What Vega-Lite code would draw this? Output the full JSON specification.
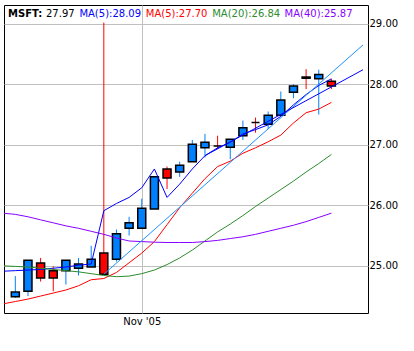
{
  "$schema": "https://vega.github.io/schema/vega-lite/v6.json",
  "width": 364,
  "height": 308,
  "autosize": {"type": "none"},
  "padding": {"left": 4, "top": 5, "right": 46, "bottom": 38},
  "background": "white",
  "config": {
    "font": "DejaVu Sans",
    "view": {"stroke": "#000000", "strokeWidth": 1}
  },
  "datasets": {
    "candles": [
      {"i": 0, "open": 24.49, "high": 24.83, "low": 24.47, "close": 24.565},
      {"i": 1, "open": 24.58, "high": 25.09, "low": 24.50, "close": 25.09},
      {"i": 2, "open": 25.045, "high": 25.13, "low": 24.74, "close": 24.80},
      {"i": 3, "open": 24.92, "high": 24.99, "low": 24.58, "close": 24.80},
      {"i": 4, "open": 24.92, "high": 25.09, "low": 24.69, "close": 25.09},
      {"i": 5, "open": 24.96, "high": 25.13, "low": 24.84, "close": 25.03},
      {"i": 6, "open": 24.98, "high": 25.33, "low": 24.98, "close": 25.11},
      {"i": 7, "open": 25.21, "high": 29.02, "low": 24.86, "close": 24.86},
      {"i": 8, "open": 25.11, "high": 25.60, "low": 25.07, "close": 25.53},
      {"i": 9, "open": 25.62, "high": 25.81, "low": 25.50, "close": 25.71},
      {"i": 10, "open": 25.62, "high": 26.11, "low": 25.62, "close": 25.95},
      {"i": 11, "open": 25.94, "high": 26.47, "low": 25.94, "close": 26.47},
      {"i": 12, "open": 26.60, "high": 26.64, "low": 26.27, "close": 26.45},
      {"i": 13, "open": 26.55, "high": 26.72, "low": 26.47, "close": 26.66},
      {"i": 14, "open": 26.72, "high": 27.08, "low": 26.72, "close": 27.01},
      {"i": 15, "open": 26.95, "high": 27.18, "low": 26.79, "close": 27.04},
      {"i": 16, "open": 26.98, "high": 27.15, "low": 26.93, "close": 26.98},
      {"i": 17, "open": 26.96, "high": 27.09, "low": 26.76, "close": 27.09},
      {"i": 18, "open": 27.15, "high": 27.40, "low": 27.08, "close": 27.28},
      {"i": 19, "open": 27.37, "high": 27.45, "low": 27.20, "close": 27.37},
      {"i": 20, "open": 27.34, "high": 27.55, "low": 27.26, "close": 27.49},
      {"i": 21, "open": 27.49, "high": 27.88, "low": 27.49, "close": 27.74},
      {"i": 22, "open": 27.87, "high": 28.00, "low": 27.77, "close": 27.97},
      {"i": 23, "open": 28.12, "high": 28.25, "low": 27.92, "close": 28.10},
      {"i": 24, "open": 28.09, "high": 28.24, "low": 27.50, "close": 28.16},
      {"i": 25, "open": 28.05, "high": 28.09, "low": 27.92, "close": 27.97}
    ],
    "mas": [
      {"s": "MA(5):28.09", "i": -1, "value": 24.91},
      {"s": "MA(5):28.09", "i": 0, "value": 24.92},
      {"s": "MA(5):28.09", "i": 1, "value": 24.93},
      {"s": "MA(5):28.09", "i": 2, "value": 24.94},
      {"s": "MA(5):28.09", "i": 3, "value": 24.96},
      {"s": "MA(5):28.09", "i": 4, "value": 24.98},
      {"s": "MA(5):28.09", "i": 5, "value": 25.01},
      {"s": "MA(5):28.09", "i": 6, "value": 25.03},
      {"s": "MA(5):28.09", "i": 7, "value": 25.91},
      {"s": "MA(5):28.09", "i": 8, "value": 26.03},
      {"s": "MA(5):28.09", "i": 9, "value": 26.13},
      {"s": "MA(5):28.09", "i": 10, "value": 26.29},
      {"s": "MA(5):28.09", "i": 11, "value": 26.60},
      {"s": "MA(5):28.09", "i": 12, "value": 26.13},
      {"s": "MA(5):28.09", "i": 13, "value": 26.35},
      {"s": "MA(5):28.09", "i": 14, "value": 26.60},
      {"s": "MA(5):28.09", "i": 15, "value": 26.82},
      {"s": "MA(5):28.09", "i": 16, "value": 26.95},
      {"s": "MA(5):28.09", "i": 17, "value": 27.04},
      {"s": "MA(5):28.09", "i": 18, "value": 27.18},
      {"s": "MA(5):28.09", "i": 19, "value": 27.25},
      {"s": "MA(5):28.09", "i": 20, "value": 27.33},
      {"s": "MA(5):28.09", "i": 21, "value": 27.47},
      {"s": "MA(5):28.09", "i": 22, "value": 27.66},
      {"s": "MA(5):28.09", "i": 23, "value": 27.83},
      {"s": "MA(5):28.09", "i": 24, "value": 27.98},
      {"s": "MA(5):28.09", "i": 25, "value": 28.09},
      {"s": "MA(5):27.70", "i": -1, "value": 24.37},
      {"s": "MA(5):27.70", "i": 0, "value": 24.41},
      {"s": "MA(5):27.70", "i": 1, "value": 24.45},
      {"s": "MA(5):27.70", "i": 2, "value": 24.50},
      {"s": "MA(5):27.70", "i": 3, "value": 24.55},
      {"s": "MA(5):27.70", "i": 4, "value": 24.60},
      {"s": "MA(5):27.70", "i": 5, "value": 24.67},
      {"s": "MA(5):27.70", "i": 6, "value": 24.77},
      {"s": "MA(5):27.70", "i": 7, "value": 24.79},
      {"s": "MA(5):27.70", "i": 8, "value": 24.89},
      {"s": "MA(5):27.70", "i": 9, "value": 25.05},
      {"s": "MA(5):27.70", "i": 10, "value": 25.21},
      {"s": "MA(5):27.70", "i": 11, "value": 25.40},
      {"s": "MA(5):27.70", "i": 12, "value": 25.68},
      {"s": "MA(5):27.70", "i": 13, "value": 25.96},
      {"s": "MA(5):27.70", "i": 14, "value": 26.20},
      {"s": "MA(5):27.70", "i": 15, "value": 26.44},
      {"s": "MA(5):27.70", "i": 16, "value": 26.64},
      {"s": "MA(5):27.70", "i": 17, "value": 26.73},
      {"s": "MA(5):27.70", "i": 18, "value": 26.86},
      {"s": "MA(5):27.70", "i": 19, "value": 26.95},
      {"s": "MA(5):27.70", "i": 20, "value": 27.05},
      {"s": "MA(5):27.70", "i": 21, "value": 27.16},
      {"s": "MA(5):27.70", "i": 22, "value": 27.36},
      {"s": "MA(5):27.70", "i": 23, "value": 27.53},
      {"s": "MA(5):27.70", "i": 24, "value": 27.59},
      {"s": "MA(5):27.70", "i": 25, "value": 27.70},
      {"s": "MA(20):26.84", "i": -1, "value": 25.00},
      {"s": "MA(20):26.84", "i": 0, "value": 24.99},
      {"s": "MA(20):26.84", "i": 1, "value": 24.98},
      {"s": "MA(20):26.84", "i": 2, "value": 24.96},
      {"s": "MA(20):26.84", "i": 3, "value": 24.94},
      {"s": "MA(20):26.84", "i": 4, "value": 24.92},
      {"s": "MA(20):26.84", "i": 5, "value": 24.90},
      {"s": "MA(20):26.84", "i": 6, "value": 24.87},
      {"s": "MA(20):26.84", "i": 7, "value": 24.84},
      {"s": "MA(20):26.84", "i": 8, "value": 24.82},
      {"s": "MA(20):26.84", "i": 9, "value": 24.83},
      {"s": "MA(20):26.84", "i": 10, "value": 24.87},
      {"s": "MA(20):26.84", "i": 11, "value": 24.93},
      {"s": "MA(20):26.84", "i": 12, "value": 25.02},
      {"s": "MA(20):26.84", "i": 13, "value": 25.13},
      {"s": "MA(20):26.84", "i": 14, "value": 25.26},
      {"s": "MA(20):26.84", "i": 15, "value": 25.41},
      {"s": "MA(20):26.84", "i": 16, "value": 25.56},
      {"s": "MA(20):26.84", "i": 17, "value": 25.69},
      {"s": "MA(20):26.84", "i": 18, "value": 25.83},
      {"s": "MA(20):26.84", "i": 19, "value": 25.98},
      {"s": "MA(20):26.84", "i": 20, "value": 26.12},
      {"s": "MA(20):26.84", "i": 21, "value": 26.26},
      {"s": "MA(20):26.84", "i": 22, "value": 26.40},
      {"s": "MA(20):26.84", "i": 23, "value": 26.55},
      {"s": "MA(20):26.84", "i": 24, "value": 26.69},
      {"s": "MA(20):26.84", "i": 25, "value": 26.84},
      {"s": "MA(40):25.87", "i": -1, "value": 25.87},
      {"s": "MA(40):25.87", "i": 0, "value": 25.85},
      {"s": "MA(40):25.87", "i": 1, "value": 25.81},
      {"s": "MA(40):25.87", "i": 2, "value": 25.76},
      {"s": "MA(40):25.87", "i": 3, "value": 25.71},
      {"s": "MA(40):25.87", "i": 4, "value": 25.66},
      {"s": "MA(40):25.87", "i": 5, "value": 25.62},
      {"s": "MA(40):25.87", "i": 6, "value": 25.57},
      {"s": "MA(40):25.87", "i": 7, "value": 25.52},
      {"s": "MA(40):25.87", "i": 8, "value": 25.46},
      {"s": "MA(40):25.87", "i": 9, "value": 25.41},
      {"s": "MA(40):25.87", "i": 10, "value": 25.40},
      {"s": "MA(40):25.87", "i": 11, "value": 25.39},
      {"s": "MA(40):25.87", "i": 12, "value": 25.385},
      {"s": "MA(40):25.87", "i": 13, "value": 25.385},
      {"s": "MA(40):25.87", "i": 14, "value": 25.385},
      {"s": "MA(40):25.87", "i": 15, "value": 25.40},
      {"s": "MA(40):25.87", "i": 16, "value": 25.42},
      {"s": "MA(40):25.87", "i": 17, "value": 25.45},
      {"s": "MA(40):25.87", "i": 18, "value": 25.48},
      {"s": "MA(40):25.87", "i": 19, "value": 25.52},
      {"s": "MA(40):25.87", "i": 20, "value": 25.57},
      {"s": "MA(40):25.87", "i": 21, "value": 25.62},
      {"s": "MA(40):25.87", "i": 22, "value": 25.67},
      {"s": "MA(40):25.87", "i": 23, "value": 25.73},
      {"s": "MA(40):25.87", "i": 24, "value": 25.80},
      {"s": "MA(40):25.87", "i": 25, "value": 25.87}
    ],
    "trends": [
      {"t": "light", "i": 7, "value": 24.86},
      {"t": "light", "i": 27.5, "value": 28.65},
      {"t": "dark", "i": 15, "value": 26.82},
      {"t": "dark", "i": 27.5, "value": 28.24}
    ],
    "axisticks": [
      {"v": 24.4, "k": "minor"}, {"v": 24.6, "k": "minor"}, {"v": 24.8, "k": "minor"},
      {"v": 25.0, "k": "major"}, {"v": 25.2, "k": "minor"}, {"v": 25.4, "k": "minor"},
      {"v": 25.6, "k": "minor"}, {"v": 25.8, "k": "minor"}, {"v": 26.0, "k": "major"},
      {"v": 26.2, "k": "minor"}, {"v": 26.4, "k": "minor"}, {"v": 26.6, "k": "minor"},
      {"v": 26.8, "k": "minor"}, {"v": 27.0, "k": "major"}, {"v": 27.2, "k": "minor"},
      {"v": 27.4, "k": "minor"}, {"v": 27.6, "k": "minor"}, {"v": 27.8, "k": "minor"},
      {"v": 28.0, "k": "major"}, {"v": 28.2, "k": "minor"}, {"v": 28.4, "k": "minor"},
      {"v": 28.6, "k": "minor"}, {"v": 28.8, "k": "minor"}, {"v": 29.0, "k": "major"}
    ]
  },
  "encoding": {
    "x": {
      "field": "i",
      "type": "quantitative",
      "scale": {"domain": [-0.5, 27.5], "nice": false, "zero": false},
      "axis": {
        "values": [10],
        "labelExpr": "\"Nov '05\"",
        "ticks": false,
        "domain": false,
        "grid": true,
        "gridColor": "#c0c0c0",
        "gridWidth": 1,
        "labelFont": "DejaVu Sans",
        "labelFontSize": 10,
        "labelColor": "#000000",
        "labelPadding": 3,
        "title": null
      }
    }
  },
  "layer": [
    {
      "data": {"name": "candles"},
      "mark": {"type": "rule", "strokeWidth": 1},
      "encoding": {
        "y": {
          "field": "low",
          "type": "quantitative",
          "scale": {"domain": [24.22, 29.31], "nice": false, "zero": false},
          "axis": {
            "orient": "right",
            "values": [25, 26, 27, 28, 29],
            "ticks": false,
            "format": ".2f",
            "labelFont": "DejaVu Sans",
            "labelFontSize": 10,
            "labelColor": "#000000",
            "labelPadding": 1,
            "grid": true,
            "gridColor": "#c0c0c0",
            "domain": false,
            "title": null
          }
        },
        "y2": {"field": "high"},
        "color": {"condition": {"test": "datum.close > datum.open", "value": "#0080ff"}, "value": "#ff0000"}
      }
    },
    {
      "data": {"name": "candles"},
      "mark": {"type": "bar", "size": 8, "stroke": "#000000", "strokeWidth": 1.5},
      "encoding": {
        "y": {"field": "open", "type": "quantitative"},
        "y2": {"field": "close"},
        "color": {"condition": {"test": "datum.close > datum.open", "value": "#0080ff"}, "value": "#ff0000"}
      }
    },
    {
      "data": {"name": "mas"},
      "mark": {"type": "line", "strokeWidth": 1, "clip": true},
      "encoding": {
        "y": {"field": "value", "type": "quantitative"},
        "color": {
          "field": "s",
          "type": "nominal",
          "scale": {
            "domain": ["27.97", "MA(5):28.09", "MA(5):27.70", "MA(20):26.84", "MA(40):25.87"],
            "range": ["#000000", "#0000ff", "#ff0000", "#2e8b2e", "#8800ff"]
          },
          "legend": {
            "title": "MSFT:",
            "orient": "top-left",
            "direction": "horizontal",
            "titleOrient": "left",
            "titleFont": "DejaVu Sans",
            "titleFontWeight": "bold",
            "titleFontSize": 10,
            "titleColor": "#000000",
            "titlePadding": 3,
            "labelFont": "DejaVu Sans",
            "labelFontSize": 10,
            "labelOffset": -10,
            "labelLimit": 0,
            "symbolSize": 0.0001,
            "symbolStrokeWidth": 0.0001,
            "symbolOpacity": 0,
            "columnPadding": 4.4,
            "offset": 4,
            "padding": 0,
            "labelExpr": "datum.label == '27.97' ? '27.97\u00a0\u00a0\u00a0' : datum.label",
            "encode": {"labels": {"update": {"fill": {"scale": "color", "field": "value"}}}}
          }
        }
      }
    },
    {
      "data": {"name": "trends"},
      "mark": {"type": "line", "strokeWidth": 1, "clip": true},
      "encoding": {
        "y": {"field": "value", "type": "quantitative"},
        "detail": {"field": "t"},
        "stroke": {"condition": {"test": "datum.t == 'light'", "value": "#1e90ff"}, "value": "#0000ff"}
      }
    },
    {
      "data": {"name": "axisticks"},
      "mark": {"type": "tick", "orient": "horizontal", "thickness": 1, "color": "#000000", "opacity": 1, "clip": true},
      "encoding": {
        "x": {"datum": -0.5, "type": "quantitative"},
        "y": {"field": "v", "type": "quantitative"},
        "size": {"condition": {"test": "datum.k == 'major'", "value": 22}, "value": 12}
      }
    },
    {
      "data": {"name": "axisticks"},
      "mark": {"type": "tick", "orient": "horizontal", "thickness": 1, "color": "#000000", "opacity": 1, "clip": true},
      "encoding": {
        "x": {"datum": 27.5, "type": "quantitative"},
        "y": {"field": "v", "type": "quantitative"},
        "size": {"condition": {"test": "datum.k == 'major'", "value": 22}, "value": 12}
      }
    }
  ]
}
